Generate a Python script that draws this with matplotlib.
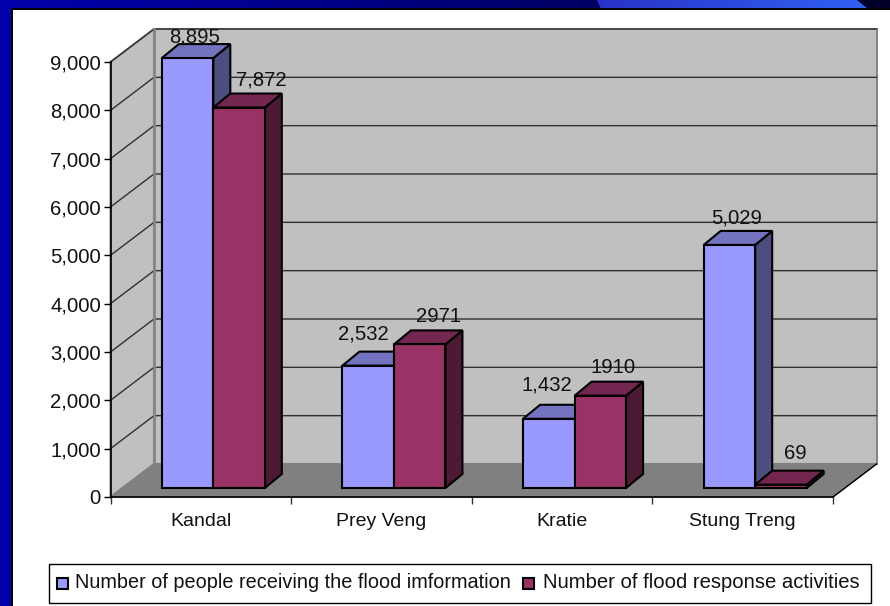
import numpy as np
import matplotlib
matplotlib.use('Agg')
import matplotlib.pyplot as plt
from matplotlib.patches import Polygon, Rectangle

plt.rcParams['font.family'] = ['Liberation Sans', 'DejaVu Sans']

districts = ['Kandal', 'Prey Veng', 'Kratie', 'Stung Treng']
people = [8895, 2532, 1432, 5029]
activities = [7872, 2971, 1910, 69]
people_labels = ['8,895', '2,532', '1,432', '5,029']
activity_labels = ['7,872', '2971', '1910', '69']
series_names = ['Number of people receiving the flood imformation',
                'Number of flood response activities']
yticks = np.arange(0, 10000, 1000)

# hand placed data labels in the original, offsets in px from bar top
people_nudge = [(-1, 7), (-13, 18), (-10, 20), (-1, 13)]
activity_nudge = [(14, 14), (10, 14), (4, 14), (6, 17)]

W, H = 890, 606
fig = plt.figure(figsize=(W / 100, H / 100), dpi=100, facecolor='white')

# slide background, pixel coords
bg = fig.add_axes([0, 0, 1, 1])
bg.axis('off')
bg.add_patch(Rectangle((0, 0), 11, H, color='#0000aa', lw=0))
stops = np.array([[0, 0, 170], [0, 0, 140], [0, 0, 100], [0, 0, 40]]) / 255
t = np.linspace(0, 1, 256)
band = np.dstack([np.interp(t, np.linspace(0, 1, 4), stops[:, k])[None, :] for k in range(3)])
bg.imshow(band, extent=[0, W, 9, 0], aspect='auto', zorder=1)
# lighter shape in the top band
shape = np.dstack([np.interp(t, [0, 1], [a, b])[None, :] for a, b in zip((0.16, 0.2, 0.78), (0.19, 0.38, 0.95))])
im = bg.imshow(shape, extent=[597, 868, 9, 0], aspect='auto', zorder=2)
im.set_clip_path(Polygon([(597, 0), (857, 0), (868, 9), (601, 9)], transform=bg.transData))
bg.add_patch(Rectangle((11, 8), W, 2, color='black', lw=0, zorder=3))
bg.add_patch(Rectangle((11, 8), 2, H, color='black', lw=0, zorder=3))
bg.set_xlim(0, W)
bg.set_ylim(H, 0)

# main axes is the front plane of the 3d box
L, R, B, T = 110.5, 833, 497, 62
ax = fig.add_axes([L / W, 1 - B / H, (R - L) / W, (B - T) / H])
ax.patch.set_alpha(0)
ax.set_xlim(0, 4)
ax.set_ylim(0, 9000)

px_x = 4 / (R - L)
px_y = 9000 / (B - T)
depth_x, depth_y = 43.5 * px_x, 33 * px_y
ymax = 9000


def poly(pts, fc, ec='black', lw=1.5, z=2):
    ax.add_patch(Polygon(pts, closed=True, facecolor=fc, edgecolor=ec, lw=lw, zorder=z,
                         clip_on=False, joinstyle='miter'))


# walls and floor
poly([(depth_x, depth_y), (4 + depth_x, depth_y), (4 + depth_x, ymax + depth_y), (depth_x, ymax + depth_y)],
     '#c0c0c0', '#868686', 1.5, 1)
poly([(0, 0), (depth_x, depth_y), (depth_x, ymax + depth_y), (0, ymax)], '#c0c0c0', '#868686', 1.5, 1)
poly([(0, 0), (4, 0), (4 + depth_x, depth_y), (depth_x, depth_y)], '#808080', '#808080', 1, 1)

for v in yticks[1:]:
    ax.plot([0, depth_x, 4 + depth_x], [v, v + depth_y, v + depth_y], color='#303030', lw=1.0, zorder=1.5,
            clip_on=False)
ax.plot([depth_x, depth_x], [depth_y, ymax + depth_y], color='#868686', lw=2, zorder=1.6, clip_on=False)
ax.plot([4, 4 + depth_x], [0, depth_y], color='black', lw=1, zorder=1.6, clip_on=False)

bar_w = 51.5 * px_x
bar_dx, bar_dy = 17 * px_x, 14 * px_y
off_x, off_y = 12.5 * px_x, 9 * px_y


def bar3d(x0, val, front, top, side, z):
    x1 = x0 + bar_w
    y0 = off_y
    y1 = off_y + val
    poly([(x1, y0), (x1 + bar_dx, y0 + bar_dy), (x1 + bar_dx, y1 + bar_dy), (x1, y1)], side, z=z)
    poly([(x0, y1), (x1, y1), (x1 + bar_dx, y1 + bar_dy), (x0 + bar_dx, y1 + bar_dy)], top, z=z)
    poly([(x0, y0), (x1, y0), (x1, y1), (x0, y1)], front, z=z)


for i in range(len(districts)):
    mid = i + 0.5 + off_x
    bar3d(mid - bar_w, people[i], '#9999ff', '#7373bf', '#4d4d80', 3 + i * 0.1)
    bar3d(mid, activities[i], '#993366', '#732650', '#4d1a33', 3.05 + i * 0.1)
    nx, ny = people_nudge[i]
    ax.text(mid - bar_w / 2 + bar_dx / 2 + nx * px_x, people[i] + off_y + bar_dy + ny * px_y, people_labels[i],
            ha='center', va='center', fontsize=14.6, color='#111111', zorder=5)
    nx, ny = activity_nudge[i]
    ax.text(mid + bar_w / 2 + bar_dx / 2 + nx * px_x, activities[i] + off_y + bar_dy + ny * px_y, activity_labels[i],
            ha='center', va='center', fontsize=14.6, color='#111111', zorder=5)

for s in ['top', 'right']:
    ax.spines[s].set_visible(False)
for s in ['left', 'bottom']:
    ax.spines[s].set_color('black')
    ax.spines[s].set_linewidth(1.2)
    ax.spines[s].set_zorder(2.5)

ax.set_yticks(yticks)
ax.set_yticklabels([f'{v:,}' for v in yticks], fontsize=14.6, color='#111111')
ax.set_xticks(range(5))
ax.set_xticklabels([])
ax.set_xticks(np.arange(4) + 0.5, minor=True)
ax.set_xticklabels(districts, minor=True, fontsize=14, color='#111111')
ax.tick_params(axis='x', which='minor', length=0, pad=11.5)
ax.tick_params(axis='x', which='major', length=5, width=1, color='#333333')
ax.tick_params(axis='y', length=5, width=1, pad=2)

# legend box
bg.add_patch(Rectangle((49, 564), 822, 39, facecolor='white', edgecolor='black', lw=1, zorder=4))
for x, c, name, fs in [(57, '#9999ff', series_names[0], 14.3), (523, '#993366', series_names[1], 14.6)]:
    bg.add_patch(Rectangle((x, 578), 11, 11, facecolor=c, edgecolor='black', lw=1.5, zorder=5))
    bg.text(x + (18 if x < 100 else 20), 582.5, name, fontsize=fs, va='center', ha='left', color='#111111', zorder=5)

fig.savefig('out.png', dpi=100)
